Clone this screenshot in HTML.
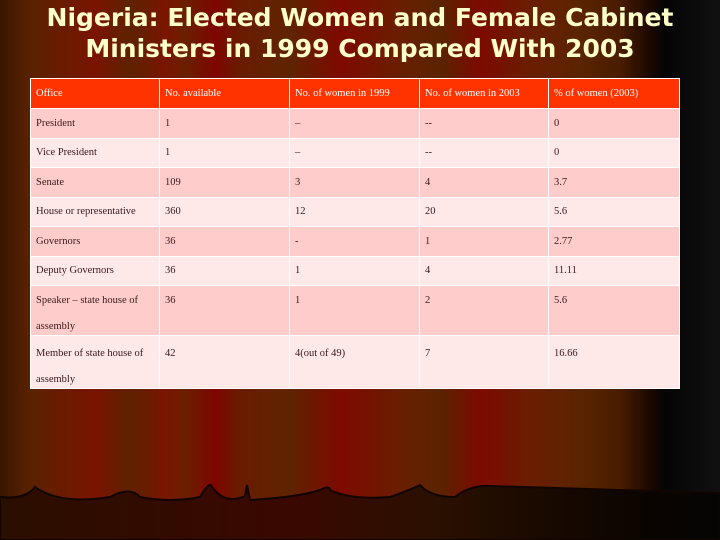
<!DOCTYPE html>
<html><head><meta charset="utf-8"><style>
html,body{margin:0;padding:0}
body{width:720px;height:540px;overflow:hidden;position:relative;
background:linear-gradient(90deg,#3a1500 0px,#5a2200 30px,#7a1400 95px,#5e2200 130px,#7a1500 165px,#6a2000 185px,#7e0500 215px,#6a1c00 240px,#5e2400 290px,#7e0a00 340px,#6a1e00 400px,#5a2400 440px,#7c0a00 480px,#6a1e00 530px,#5a2400 580px,#4a1c00 620px,#1a0800 650px,#050505 665px,#111 720px);}
#bottom{position:absolute;left:0;top:0;width:720px;height:540px}
h1{position:absolute;left:0;top:0;width:720px;margin:0;text-align:center;color:#ffffcc;font-family:"DejaVu Sans",sans-serif;font-weight:bold;font-size:25px;line-height:31px;padding-top:2px;white-space:nowrap}
table{position:absolute;left:30px;top:78px;width:649px;border-collapse:collapse;font-family:"Liberation Serif",serif;font-size:10.5px;color:#3a1a1a;table-layout:fixed}
td{border:1px solid #fff;padding:0 0 0 5px;vertical-align:top}
td div{overflow:visible}
tr.h td{background:#ff3300;color:#fff;height:29px;vertical-align:middle}
tr.o td{background:#ffcccc}
tr.e td{background:#ffe8e8}
tr.n td{height:28.5px;vertical-align:middle}
tr.t td div{height:49px;line-height:26px;margin-top:2px;margin-bottom:-2px}
tr.t2 td div{height:52px;line-height:26px;margin-top:5px;margin-bottom:-5px}
</style></head><body>
<svg id="bottom" viewBox="0 0 720 540">
<defs><linearGradient id="g" x1="0" x2="1"><stop offset="0" stop-color="#2a0e00"/><stop offset="0.4" stop-color="#3a0800"/><stop offset="0.6" stop-color="#2a1000"/><stop offset="0.9" stop-color="#0a0400"/><stop offset="1" stop-color="#050505"/></linearGradient></defs>
<path d="M0 497 Q25 500 35 487 Q60 505 110 497 Q130 486 140 497 Q170 503 200 497 Q210 480 212 487 Q225 505 245 496 L247 485 L250 500 Q300 497 320 490 Q330 485 330 490 Q350 500 390 497 Q410 490 420 485 Q430 497 455 497 Q470 485 490 486 L720 493 L720 540 L0 540Z" fill="url(#g)" stroke="#120400" stroke-width="2"/>
</svg>
<h1>Nigeria: Elected Women and Female Cabinet<br>Ministers in 1999 Compared With 2003</h1>
<table>
<colgroup><col style="width:129px"><col style="width:130px"><col style="width:130px"><col style="width:129px"><col style="width:131px"></colgroup>
<tr class="h"><td>Office</td><td>No. available</td><td>No. of women in 1999</td><td>No. of women in 2003</td><td>% of women (2003)</td></tr>
<tr class="o n"><td>President</td><td>1</td><td>–</td><td>--</td><td>0</td></tr>
<tr class="e n"><td>Vice President</td><td>1</td><td>–</td><td>--</td><td>0</td></tr>
<tr class="o n"><td>Senate</td><td>109</td><td>3</td><td>4</td><td>3.7</td></tr>
<tr class="e n"><td>House or representative</td><td>360</td><td>12</td><td>20</td><td>5.6</td></tr>
<tr class="o n"><td>Governors</td><td>36</td><td>-</td><td>1</td><td>2.77</td></tr>
<tr class="e n"><td>Deputy Governors</td><td>36</td><td>1</td><td>4</td><td>11.11</td></tr>
<tr class="o t"><td><div>Speaker – state house of assembly</div></td><td><div>36</div></td><td><div>1</div></td><td><div>2</div></td><td><div>5.6</div></td></tr>
<tr class="e t2"><td><div>Member of state house of assembly</div></td><td><div>42</div></td><td><div>4(out of 49)</div></td><td><div>7</div></td><td><div>16.66</div></td></tr>
</table>
</body></html>
